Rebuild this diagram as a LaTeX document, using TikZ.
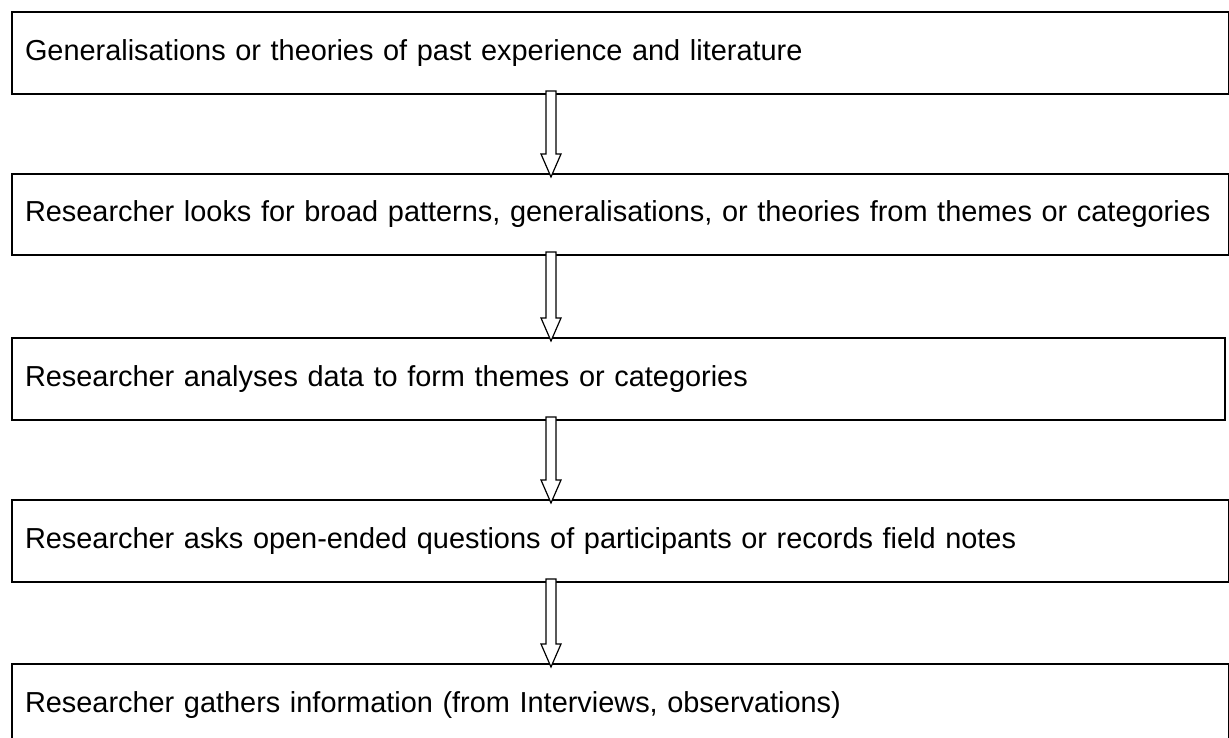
\documentclass[tikz,border=0pt]{standalone}
\usepackage{fontspec}
\setmainfont{Liberation Sans}
\usetikzlibrary{calc}
\tikzset{
  stagebox/.style={draw=black, line width=2pt, rectangle, anchor=north west,
    minimum height=82pt, inner xsep=13pt, inner ysep=0pt, text width=1191pt,
    align=left, font=\fontsize{28.9}{35}\selectfont},
  hollowarrow/.style={draw=black, fill=white, line width=1.2pt, line join=miter}
}
\newcommand\hollowdown[2]{%
  \draw[hollowarrow] let \p1=(#1.south west), \p2=(#2.north west) in
    (\x1+535pt,\y1+4pt) -- (\x1+535pt,\y2+19pt) -- (\x1+530pt,\y2+19pt) --
    (\x1+540pt,\y2-4pt) -- (\x1+550pt,\y2+19pt) -- (\x1+545pt,\y2+19pt) --
    (\x1+545pt,\y1+4pt) -- cycle;}
\begin{document}
\begin{tikzpicture}[x=1pt,y=1pt]
\useasboundingbox (0,0) rectangle (1229,738);
\clip (0,0) rectangle (1229,738);
\node[stagebox] (b1) at (11,727) {\mbox{Generalisations or theories of past experience and literature}};
\node[stagebox, minimum height=81pt] (b2) at (11,565) {\mbox{Researcher looks for broad patterns, generalisations, or theories from themes or categories}};
\node[stagebox, text width=1187pt] (b3) at (11,401) {\mbox{Researcher analyses data to form themes or categories}};
\node[stagebox] (b4) at (11,239) {\mbox{Researcher asks open-ended questions of participants or records field notes}};
\node[stagebox] (b5) at (11,75) {\mbox{Researcher gathers information (from Interviews, observations)}};
\hollowdown{b1}{b2}
\hollowdown{b2}{b3}
\hollowdown{b3}{b4}
\hollowdown{b4}{b5}
\end{tikzpicture}
\end{document}
